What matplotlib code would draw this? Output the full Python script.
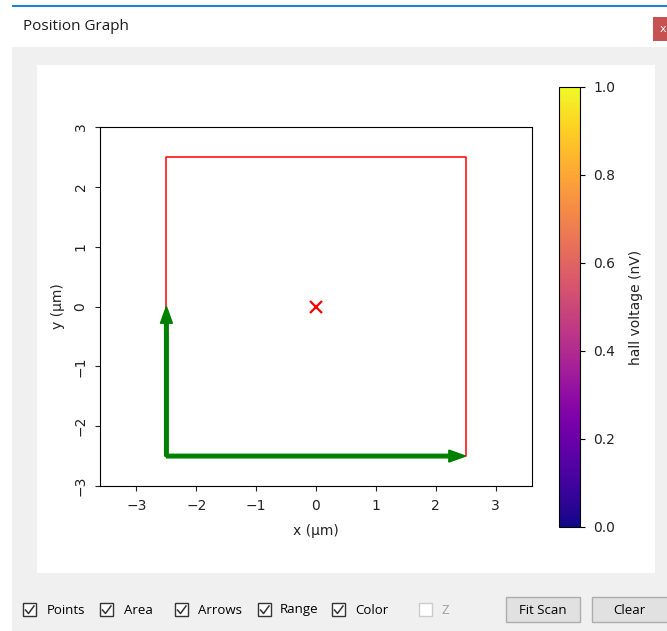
import matplotlib
matplotlib.use("Agg")
import matplotlib.pyplot as plt
from matplotlib.patches import Rectangle
from matplotlib.lines import Line2D
import matplotlib.cm as cm
import matplotlib.colors as mcolors

# scan range (µm), current stage position and scan direction arrows
x_range = [-2.5, 2.5]
y_range = [-2.5, 2.5]
pos_x = [0.0]
pos_y = [0.0]
arrow_origin = (-2.5, -2.5)
arrow_fast = (5.0, 0.0)
arrow_slow = (0.0, 2.5)
cbar_ticks = [0.0, 0.2, 0.4, 0.6, 0.8, 1.0]
x_ticks = [-3, -2, -1, 0, 1, 2, 3]
y_ticks = [-3, -2, -1, 0, 1, 2, 3]

checkboxes = ["Points", "Area", "Arrows", "Range", "Color", "Z"]
checked = [True, True, True, True, True, False]
buttons = ["Fit Scan", "Clear"]

W, H = 667, 631
fig = plt.figure(figsize=(W / 100, H / 100), dpi=100)
fig.patch.set_facecolor("white")

def box(x, y, w, h):
    # pixel box (top-left origin) -> figure fraction
    return [x / W, 1 - (y + h) / H, w / W, h / H]

def rect(x, y, w, h, fc, ec="none", lw=1, z=-2):
    l, b, ww, hh = box(x, y, w, h)
    fig.patches.append(Rectangle((l, b), ww, hh, transform=fig.transFigure,
                                 facecolor=fc, edgecolor=ec, linewidth=lw, zorder=z))

def px(x, y):
    return x / W, 1 - y / H

# window frame
rect(12, 47, 655, 584, "#f0f0f0")
rect(12, 5, 655, 2, "#1883d7")
rect(653, 17, 16, 24, "#c75050")
fig.text(*px(660, 29), "x", color="white", fontsize=8, ha="left", va="center")
fig.text(*px(23, 27), "Position Graph", family="Open Sans", fontsize=11,
         color="#1b1b1b", va="center")
rect(37, 65, 618, 508, "white", z=-1)

# scan plot
ax = fig.add_axes(box(100, 127, 432, 359))
ax.set_zorder(5)
ax.plot([x_range[0], x_range[1], x_range[1], x_range[0], x_range[0]],
        [y_range[0], y_range[0], y_range[1], y_range[1], y_range[0]],
        color="red", lw=1.1)
ax.plot(pos_x, pos_y, "x", color="red", ms=8, mew=1.6)
for d in (arrow_fast, arrow_slow):
    ax.arrow(arrow_origin[0], arrow_origin[1], d[0], d[1], width=0.06,
             head_width=0.2, head_length=0.28, length_includes_head=True,
             color="green", zorder=3)
ax.set_xlim(-3.61, 3.61)
ax.set_ylim(-3, 3)
ax.set_xticks(x_ticks)
ax.set_yticks(y_ticks)
ax.tick_params(axis="both", pad=5.5, colors="#222222", labelcolor="#222222")
ax.tick_params(axis="y", labelrotation=90)
for lab in ax.get_yticklabels():
    lab.set_va("center")
ax.set_xlabel("x (µm)", labelpad=8, color="#222222")
ax.set_ylabel("y (µm)", labelpad=6, color="#222222")

# colour scale
cax = fig.add_axes(box(559, 87, 21, 440))
cax.set_zorder(5)
sm = cm.ScalarMappable(norm=mcolors.Normalize(0, 1), cmap="plasma")
cb = fig.colorbar(sm, cax=cax, ticks=cbar_ticks)
cax.tick_params(pad=6, labelcolor="#222222")
cb.set_label("hall voltage (nV)", labelpad=10, color="#222222")

# option checkboxes
cb_x = [23, 100, 175, 258, 332, 419]
txt_x = [47, 124, 198, 280, 355, 442]
for name, on, bx, tx in zip(checkboxes, checked, cb_x, txt_x):
    ec = "#333333" if on else "#cccccc"
    rect(bx, 603, 13, 13, "white", ec=ec, lw=1, z=2)
    if on:
        xs = [bx + 2.5, bx + 5.5, bx + 11]
        ys = [603 + 7, 603 + 10.5, 603 + 3]
        fig.lines.append(Line2D([x / W for x in xs], [1 - y / H for y in ys],
                                transform=fig.transFigure, color="#333333",
                                lw=1.1, zorder=3))
    fig.text(*px(tx, 610), name, family="Open Sans", fontsize=9.5,
             color="black" if on else "#a0a0a0", va="center")

# push buttons
for name, bx, bw in zip(buttons, [506, 592], [74, 80]):
    rect(bx, 597, bw, 25, "#e1e1e1", ec="#adadad", lw=1, z=2)
    fig.text(*px(bx + 37, 610), name, family="Open Sans", fontsize=9.5,
             ha="center", va="center", zorder=3)

fig.savefig("out.png", dpi=100)
